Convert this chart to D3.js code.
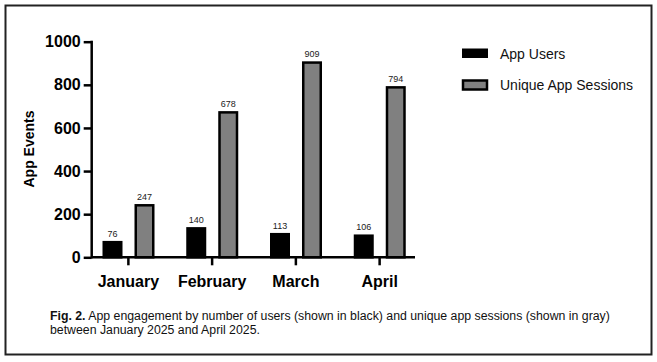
<!DOCTYPE html>
<html lang="en">
<head>
<meta charset="UTF-8">
<title>App engagement</title>
<script src="https://d3js.org/d3.v7.min.js"></script>
<style>
  body { margin: 0; background: #fff; }
  svg text { font-family: "Liberation Sans", Arial, Helvetica, sans-serif; }
</style>
</head>
<body>
<svg id="chart" width="657" height="362"></svg>
<script>
// data
var months = ["January", "February", "March", "April"];
var series = ["App Users", "Unique App Sessions"];
var appUsers = [76, 140, 113, 106];
var uniqueSessions = [247, 678, 909, 794];
var yTicks = [0, 200, 400, 600, 800, 1000];
var captionLines = [
  ["Fig. 2.", " App engagement by number of users (shown in black) and unique app sessions (shown in gray)"],
  ["", "between January 2025 and April 2025."]
];

var colors = {"App Users": "#000", "Unique App Sessions": "#808080"};

var svg = d3.select("#chart");

// outer frame
svg.append("rect")
  .attr("x", 5.5).attr("y", 5.5)
  .attr("width", 646).attr("height", 349)
  .attr("fill", "none")
  .attr("stroke", "#222")
  .attr("stroke-width", 2);

var axisX = 91.7;
var y = d3.scaleLinear().domain([0, 1000]).range([257.3, 41.7]);
var x0 = d3.scaleBand().domain(months).range([86.5, 421.5]).padding(0);
var x1 = d3.scaleBand().domain(series).range([16, 68]).paddingInner(0.375);

var rows = months.map(function(m, i) {
  return {month: m, values: [
    {key: series[0], v: appUsers[i]},
    {key: series[1], v: uniqueSessions[i]}
  ]};
});

// bars
var sw = 2.5;
var grp = svg.append("g").selectAll("g")
  .data(rows).enter().append("g")
  .attr("transform", function(d) { return "translate(" + x0(d.month) + ",0)"; });

grp.selectAll("rect")
  .data(function(d) { return d.values; })
  .enter().append("rect")
  .attr("x", function(d) { return x1(d.key) + sw / 2; })
  .attr("width", x1.bandwidth() - sw)
  .attr("y", function(d) { return y(d.v) + sw / 2; })
  .attr("height", function(d) { return y(0) - y(d.v) - sw / 2; })
  .attr("fill", function(d) { return colors[d.key]; })
  .attr("stroke", "#000")
  .attr("stroke-width", sw);

grp.selectAll("text.val")
  .data(function(d) { return d.values; })
  .enter().append("text")
  .attr("class", "val")
  .attr("x", function(d) { return x1(d.key) + x1.bandwidth() / 2; })
  .attr("y", function(d) { return y(d.v) - 4; })
  .attr("text-anchor", "middle")
  .attr("font-size", 9)
  .attr("fill", "#222")
  .text(function(d) { return d.v; });

// y axis
var yAxis = svg.append("g")
  .attr("transform", "translate(" + axisX + ",0)")
  .call(d3.axisLeft(y).tickValues(yTicks).tickFormat(d3.format("d")).tickSize(8).tickPadding(3));
yAxis.select(".domain").remove();
yAxis.append("line")
  .attr("x1", 0).attr("x2", 0)
  .attr("y1", y(1000) - 1).attr("y2", y(0) + 1)
  .attr("stroke", "#000").attr("stroke-width", 2.5);
yAxis.selectAll(".tick line").attr("stroke-width", 2.5);
yAxis.selectAll(".tick text")
  .attr("font-size", 16).attr("font-weight", "bold").attr("fill", "#000")
  .style("font-family", "'Liberation Sans', Arial, sans-serif");

// x axis
var xAxis = svg.append("g")
  .attr("transform", "translate(0," + y(0) + ")")
  .call(d3.axisBottom(x0).tickSize(8).tickPadding(10));
xAxis.select(".domain").remove();
xAxis.append("line")
  .attr("x1", axisX).attr("x2", 415)
  .attr("stroke", "#000").attr("stroke-width", 2.5);
xAxis.selectAll(".tick line").attr("stroke-width", 2.5);
xAxis.selectAll(".tick text")
  .attr("font-size", 16).attr("font-weight", "bold").attr("fill", "#000")
  .style("font-family", "'Liberation Sans', Arial, sans-serif");

// y label
svg.append("text")
  .attr("transform", "translate(34,149) rotate(-90)")
  .attr("text-anchor", "middle")
  .attr("font-size", 14)
  .attr("font-weight", "bold")
  .text("App Events");

// legend
var leg = svg.append("g").selectAll("g")
  .data(series).enter().append("g")
  .attr("transform", function(d, i) { return "translate(462," + (48.5 + i * 31) + ")"; });
leg.append("rect")
  .attr("x", function(d, i) { return i ? 1 : 0; })
  .attr("y", function(d, i) { return i ? 1 : 0; })
  .attr("width", function(d, i) { return i ? 24 : 26; })
  .attr("height", function(d, i) { return i ? 9 : 9.5; })
  .attr("fill", function(d) { return colors[d]; })
  .attr("stroke", "#000")
  .attr("stroke-width", function(d, i) { return i ? 2.5 : 0; });
leg.append("text")
  .attr("x", 38)
  .attr("y", 10)
  .attr("font-size", 14)
  .attr("fill", "#111")
  .text(function(d) { return d; });

// caption
var cap = svg.append("g");
captionLines.forEach(function(line, i) {
  var t = cap.append("text")
    .attr("x", 50)
    .attr("y", 320 + i * 13.5)
    .attr("font-size", 12.3)
    .attr("fill", "#111");
  if (line[0]) t.append("tspan").attr("font-weight", "bold").text(line[0]);
  t.append("tspan").text(line[1]);
});
</script>
</body>
</html>
